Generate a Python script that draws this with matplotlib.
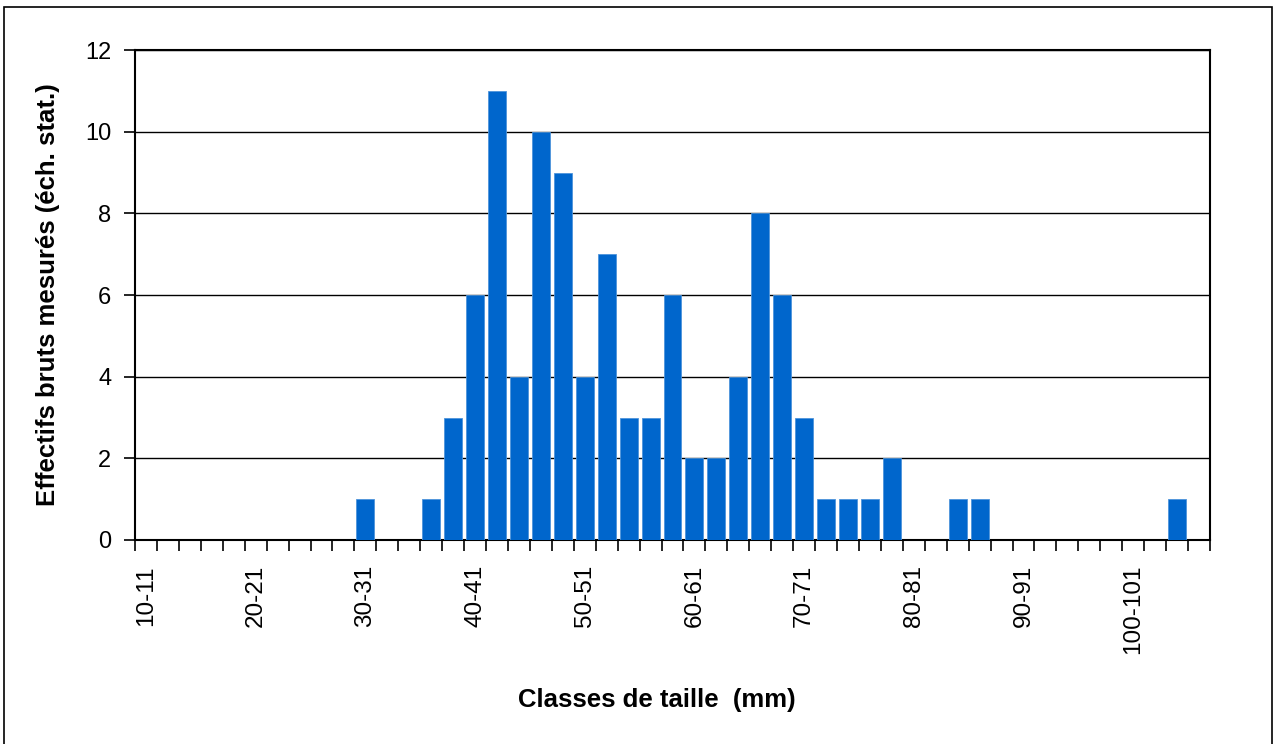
import matplotlib
matplotlib.use("Agg")
import matplotlib.pyplot as plt
from matplotlib.patches import Rectangle

plt.rcParams['font.family'] = ['Liberation Sans', 'DejaVu Sans']

# Data
class_starts = list(range(10, 108, 2))
categories = [f"{s}-{s+1}" for s in class_starts]
counts_by_class = {30: 1, 36: 1, 38: 3, 40: 6, 42: 11, 44: 4, 46: 10, 48: 9,
                   50: 4, 52: 7, 54: 3, 56: 3, 58: 6, 60: 2, 62: 2, 64: 4,
                   66: 8, 68: 6, 70: 3, 72: 1, 74: 1, 76: 1, 78: 2, 84: 1,
                   86: 1, 104: 1}
values = [counts_by_class.get(s, 0) for s in class_starts]
shown_labels = [c if (s % 10 == 0) else "" for s, c in zip(class_starts, categories)]
y_ticks = [0, 2, 4, 6, 8, 10, 12]

W, H = 1274, 744
fig = plt.figure(figsize=(W / 100, H / 100), dpi=100)
fig.patches.append(Rectangle((4 / W, -2 / H), 1268 / W, (H - 5) / H,
                             transform=fig.transFigure, fill=False,
                             edgecolor='black', linewidth=1.2))

ax = fig.add_axes([135 / W, 1 - 540 / H, (1210 - 135) / W, (540 - 50) / H])
x = list(range(len(categories)))
ax.bar(x, values, width=0.82, color='#0066CC', edgecolor='#4d94db',
       linewidth=0.6, zorder=3)

ax.set_xlim(-0.5, len(categories) - 0.5)
ax.set_ylim(0, 12)
ax.set_yticks(y_ticks)
ax.set_yticklabels([str(v) for v in y_ticks], fontsize=17)
ax.yaxis.grid(True, color='black', linewidth=1.0, zorder=1)
ax.set_axisbelow(True)

# category boundary ticks
ax.set_xticks([i - 0.5 for i in range(len(categories) + 1)], minor=False)
ax.set_xticklabels([])
ax.set_xticks(x, minor=True)
ax.set_xticklabels(shown_labels, minor=True, rotation=90, fontsize=17.5)
ax.tick_params(axis='x', which='major', length=8, width=1.2, direction='out')
ax.tick_params(axis='x', which='minor', length=0, pad=18)
ax.tick_params(axis='y', length=8, width=1.2, direction='out', pad=9)

for sp in ax.spines.values():
    sp.set_linewidth(1.5)
    sp.set_color('black')

ax.set_xlabel("Classes de taille  (mm)", fontsize=18.5, fontweight='bold')
ax.xaxis.set_label_coords((657 - 135) / 1075, -(700 - 540) / 490)
ax.xaxis.label.set_verticalalignment('center')
ax.set_ylabel("Effectifs bruts mesurés (éch. stat.)", fontsize=18.5,
              fontweight='bold', labelpad=18)

fig.savefig("out.png", dpi=100, facecolor='white')
